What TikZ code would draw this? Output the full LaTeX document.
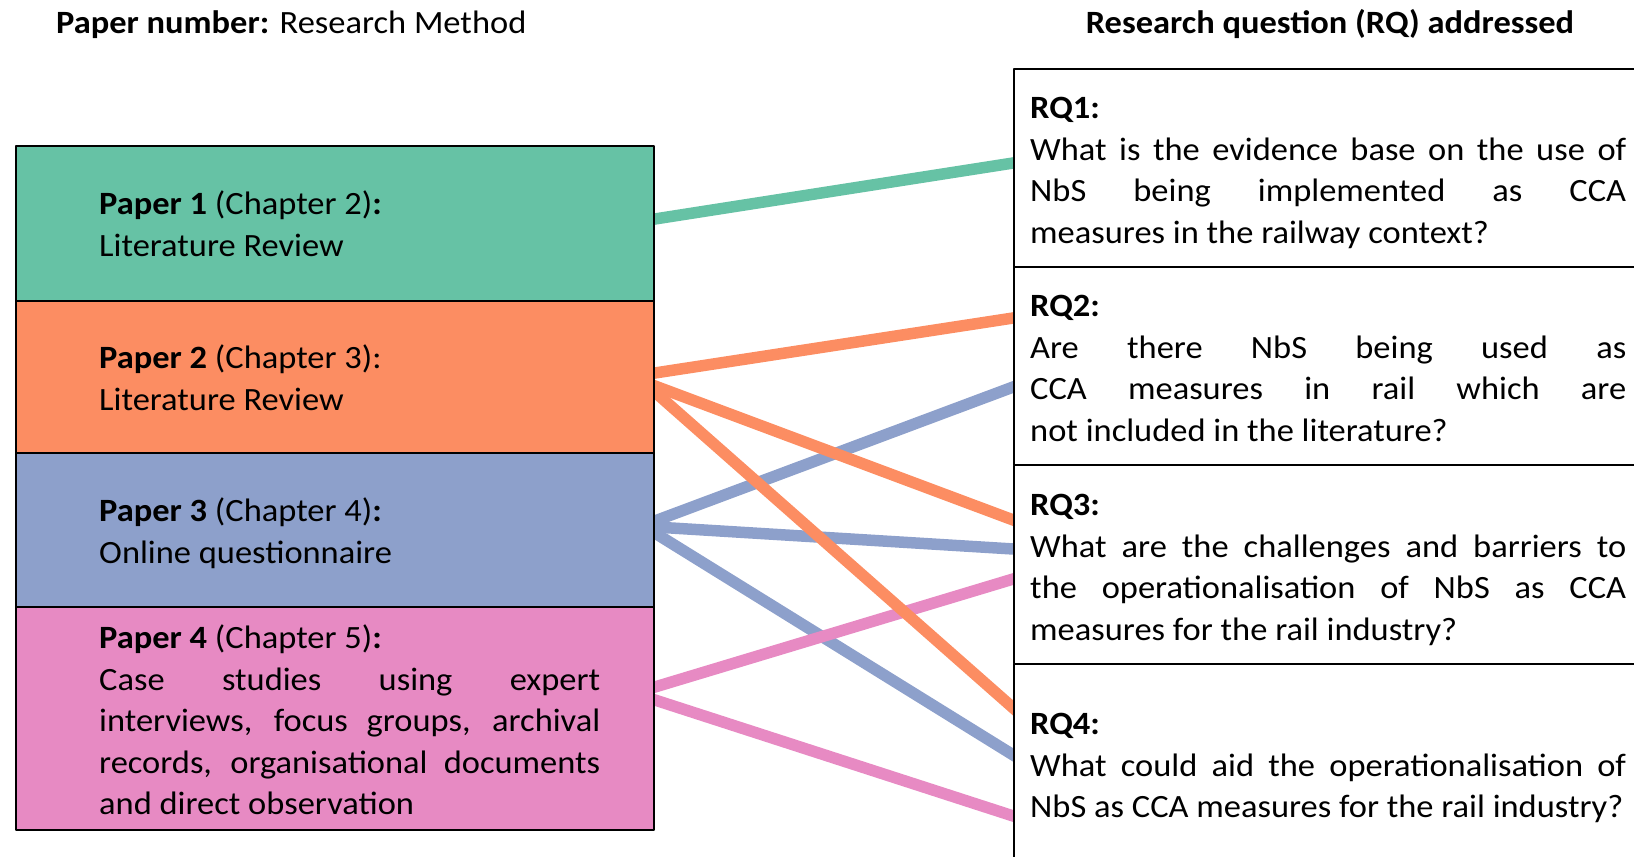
\documentclass[tikz,border=0pt]{standalone}
\usepackage{fontspec}
\setmainfont{Carlito}[FakeStretch=1.06]
\usetikzlibrary{backgrounds}
\definecolor{setgreen}{HTML}{66C2A5}
\definecolor{setorange}{HTML}{FC8D62}
\definecolor{setblue}{HTML}{8DA0CB}
\definecolor{setpink}{HTML}{E78AC3}

\begin{document}
\begin{tikzpicture}[line join=bevel,
  every node/.style={font=\fontsize{32.5bp}{41.5bp}\selectfont},
  paperbox/.style={draw=black,line width=1.8bp,minimum width=638bp,inner sep=0pt},
  rqbox/.style={draw=black,fill=white,line width=1.6bp,minimum width=628bp,minimum height=198bp,inner sep=0pt},
  boxtext/.style={align=justify,anchor=base west,inner sep=0pt,
    execute at begin node={\tolerance=10000\hyphenpenalty=10000}},
  papertext/.style={boxtext,text width=501bp},
  rqtext/.style={boxtext,text width=596bp},
  link/.style={line width=11.5bp,shorten <=-12bp,shorten >=-12bp}]
  \useasboundingbox (0bp,0bp) rectangle (1634bp,857bp);
  \clip (0bp,0bp) rectangle (1634bp,857bp);
%%
  % column heads
  \node[anchor=base west,inner sep=0pt] (methodhead) at (56bp,823bp) {\textbf{Paper number:} Research Method};
  \node[anchor=base,inner sep=0pt] (rqhead) at (1330bp,823bp) {\textbf{Research question (RQ) addressed}};
  % Node: p1
  \node[paperbox,fill=setgreen,minimum height=155bp] (p1) at (335bp,633.5bp) {};
  \node[papertext] (p1txt) at (99bp,642bp) {\textbf{Paper 1} (Chapter 2)\textbf{:}\newline
    Literature Review};
  % Node: p2
  \node[paperbox,fill=setorange,minimum height=152bp] (p2) at (335bp,480bp) {};
  \node[papertext] (p2txt) at (99bp,488bp) {\textbf{Paper 2} (Chapter 3):\newline
    Literature Review};
  % Node: p3
  \node[paperbox,fill=setblue,minimum height=154bp] (p3) at (335bp,327bp) {};
  \node[papertext] (p3txt) at (99bp,335bp) {\textbf{Paper 3} (Chapter 4)\textbf{:}\newline
    Online questionnaire};
  % Node: p4
  \node[paperbox,fill=setpink,minimum height=223bp] (p4) at (335bp,138.5bp) {};
  \node[papertext] (p4txt) at (99bp,208bp) {\textbf{Paper 4} (Chapter 5)\textbf{:}\newline
    Case studies using expert\linebreak
    interviews, focus groups, archival\linebreak
    records, organisational documents\linebreak
    and direct observation};
  % Node: rq1
  \node[rqbox] (rq1) at (1328bp,689bp) {};
  \node[rqtext] (rq1txt) at (1030bp,738bp) {\textbf{RQ1:}\newline
    What is the evidence base on the use of\linebreak
    NbS being implemented as CCA\linebreak
    measures in the railway context?};
  % Node: rq2
  \node[rqbox] (rq2) at (1328bp,491bp) {};
  \node[rqtext] (rq2txt) at (1030bp,540bp) {\textbf{RQ2:}\newline
    Are there NbS being used as\linebreak
    CCA measures in rail which are\linebreak
    not included in the literature?};
  % Node: rq3
  \node[rqbox] (rq3) at (1328bp,292.5bp) {};
  \node[rqtext] (rq3txt) at (1030bp,341bp) {\textbf{RQ3:}\newline
    What are the challenges and barriers to\linebreak
    the operationalisation of NbS as CCA\linebreak
    measures for the rail industry?};
  % Node: rq4
  \node[rqbox] (rq4) at (1328bp,94bp) {};
  \node[rqtext] (rq4txt) at (1030bp,122bp) {\textbf{RQ4:}\newline
    What could aid the operationalisation of\linebreak
    NbS as CCA measures for the rail industry?};
%%
\begin{scope}[on background layer]
  % Edge: p3 -> rq2, rq3, rq4
  \draw[link,setblue] ([yshift=9bp]p3.east) -- ([yshift=-21bp]rq2.west);
  \draw[link,setblue] ([yshift=3bp]p3.east) -- ([yshift=15.5bp]rq3.west);
  \draw[link,setblue] ([yshift=-3bp]p3.east) -- ([yshift=8bp]rq4.west);
  % Edge: p4 -> rq3, rq4
  \draw[link,setpink] ([yshift=31.5bp]p4.east) -- ([yshift=-14.5bp]rq3.west);
  \draw[link,setpink] ([yshift=18.5bp]p4.east) -- ([yshift=-53bp]rq4.west);
  % Edge: p2 -> rq2, rq3, rq4
  \draw[link,setorange] ([yshift=4bp]p2.east) -- ([yshift=48bp]rq2.west);
  \draw[link,setorange] ([yshift=-9bp]p2.east) -- ([yshift=44.5bp]rq3.west);
  \draw[link,setorange] ([yshift=-15bp]p2.east) -- ([yshift=55bp]rq4.west);
  % Edge: p1 -> rq1
  \draw[link,setgreen] ([yshift=4.5bp]p1.east) -- ([yshift=5bp]rq1.west);
\end{scope}
%
\end{tikzpicture}
\end{document}
